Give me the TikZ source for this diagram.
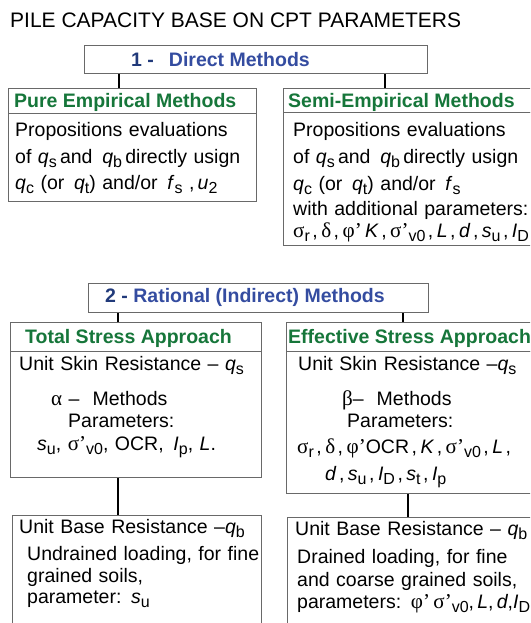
\documentclass[tikz,border=0pt]{standalone}
\usepackage{fontspec}
\setmainfont{Liberation Sans}
\newfontfamily\grkfont[Scale=1.08]{Liberation Serif}
\usepackage{xcolor}

\definecolor{hdgreen}{RGB}{22,118,58}
\definecolor{navy}{RGB}{33,58,122}
\definecolor{mblue}{RGB}{52,76,160}
\definecolor{boxgray}{RGB}{105,105,105}

\newcommand{\sbs}[1]{\raisebox{-4.5pt}{\fontsize{16}{16}\selectfont #1}}
\newcommand{\sv}[2]{\textit{#1}\sbs{#2}}
\newcommand{\gk}[1]{{\grkfont #1}}
\newcommand{\svz}{\gk{σ}{\grkfont ’}\sbs{v0}}
\newcommand{\cma}{\hspace{2.5pt},\hspace{3.5pt}}

\begin{document}
\begin{tikzpicture}[x=1pt, y=-1pt,
  panel/.style={draw=boxgray, line width=1.1pt, anchor=north west, inner sep=0pt},
  link/.style={line width=1.8pt},
  hdr/.style={anchor=base west, inner sep=0pt, font=\fontsize{19.5}{23}\selectfont\bfseries, text=hdgreen},
  mtd/.style={anchor=base west, inner sep=0pt, font=\fontsize{19.5}{23}\selectfont\bfseries},
  txt/.style={anchor=base west, inner sep=0pt, text width=300pt, align=left, font=\fontsize{19.5}{22}\selectfont}]
  \useasboundingbox (0,0) rectangle (530,623);
  \clip (0,0) rectangle (530,623);
  \node[anchor=base west, inner sep=0pt, font=\fontsize{21}{25}\selectfont] (title) at (10,28) {PILE CAPACITY BASE ON CPT PARAMETERS};

  % 1 - direct methods
  \node[panel, minimum width=343pt, minimum height=28pt] (direct) at (84,45) {};
  \node[mtd] (directTxt) at (131,67) {\textcolor{navy}{1 -}\hspace{15pt}\textcolor{mblue}{Direct Methods}};
  \node[panel, minimum width=248pt, minimum height=25pt] (pureHd) at (8,88) {};
  \node[panel, minimum width=248pt, minimum height=88pt] (pureBd) at (8,113) {};
  \node[hdr] (pureTtl) at (14,107) {Pure Empirical Methods};
  \node[txt] (pureTxt) at (15,136) {Propositions evaluations\\[5pt]
    of \sv{q}{s}\,and \,\sv{q}{b}\,directly usign\\[4pt]
    \sv{q}{c} (or \,\sv{q}{t}) and/or \,\sv{f}{s} ,\,\sv{u}{2}};
  \node[panel, minimum width=260pt, minimum height=24pt] (semiHd) at (283,88) {};
  \node[panel, minimum width=260pt, minimum height=133pt] (semiBd) at (283,112) {};
  \node[hdr] (semiTtl) at (288,107) {Semi-Empirical Methods};
  \node[txt] (semiTxt) at (293,136) {Propositions evaluations\\[5pt]
    of \sv{q}{s}\,and \,\sv{q}{b}\,directly usign\\[5pt]
    \sv{q}{c} (or \,\sv{q}{t}) and/or \,\sv{f}{s}\\[3pt]
    with additional parameters:\\
    \gk{σ}\sbs{r}\cma\gk{δ}\cma\gk{φ}\gk{’}\,\textit{K}\cma\svz\cma\textit{L}\cma\textit{d}\cma\sv{s}{u}\cma\sv{I}{D}};
  \draw[link] (119,0 |- direct.south) -- (119,0 |- pureHd.north);
  \draw[link] (385,0 |- direct.south) -- (385,0 |- semiHd.north);

  % 2 - rational methods
  \node[panel, minimum width=340pt, minimum height=29pt] (rational) at (88,283) {};
  \node[mtd] (rationalTxt) at (105,302) {\textcolor{navy}{2 -} \textcolor{mblue}{Rational (Indirect) Methods}};
  \node[panel, minimum width=251pt, minimum height=29pt] (totalHd) at (10,322) {};
  \node[panel, minimum width=251pt, minimum height=126pt] (totalBd) at (10,351) {};
  \node[hdr] (totalTtl) at (25,343) {Total Stress Approach};
  \node[txt] (totalTxt) at (19,370) {Unit Skin Resistance – \sv{q}{s}\\[13pt]
    \hspace*{32pt}\gk{α} – \ Methods\\
    \hspace*{49pt}Parameters:\\[1pt]
    \hspace*{18pt}\sv{s}{u}, \svz, OCR, \,\sv{I}{p}, \textit{L}.};
  \node[panel, minimum width=260pt, minimum height=29pt] (effHd) at (286,322) {};
  \node[panel, minimum width=260pt, minimum height=142pt] (effBd) at (286,351) {};
  \node[hdr] (effTtl) at (288,343) {Effective Stress Approach};
  \node[txt] (effTxt) at (298,370) {Unit Skin Resistance –\sv{q}{s}\\[13pt]
    \hspace*{44pt}\gk{β}– \ Methods\\
    \hspace*{49pt}Parameters:\\[4pt]
    \hspace*{-1pt}\gk{σ}\sbs{r}\cma\gk{δ}\cma\gk{φ}\gk{’}OCR\cma\textit{K}\cma\svz\cma\textit{L}\hspace{2.5pt},\\[5pt]
    \hspace*{27pt}\textit{d}\cma\sv{s}{u}\cma\sv{I}{D}\cma\sv{s}{t}\cma\sv{I}{p}};
  \draw[link] (118,0 |- rational.south) -- (118,0 |- totalHd.north);
  \draw[link] (403,0 |- rational.south) -- (403,0 |- effHd.north);

  % base resistance
  \node[panel, minimum width=249pt, minimum height=130pt] (baseL) at (12,515) {};
  \node[panel, minimum width=260pt, minimum height=130pt] (baseR) at (287,517) {};
  \node[txt] (baseLTxt) at (19,533) {Unit Base Resistance –\sv{q}{b}\\[5pt]
    \hspace*{8pt}Undrained loading, for fine\\
    \hspace*{8pt}grained soils,\\[-1pt]
    \hspace*{8pt}parameter: \sv{s}{u}};
  \node[txt] (baseRTxt) at (295,535) {Unit Base Resistance – \sv{q}{b}\\[6pt]
    \hspace*{2pt}Drained loading, for fine\\[1pt]
    \hspace*{2pt}and coarse grained soils,\\
    \hspace*{2pt}parameters: \gk{φ}\gk{’}\,\svz,\,\textit{L},\,\textit{d},\sv{I}{D}};
  \draw[link] (118,0 |- totalBd.south) -- (118,0 |- baseL.north);
  \draw[link] (408,0 |- effBd.south) -- (408,0 |- baseR.north);
\end{tikzpicture}
\end{document}
